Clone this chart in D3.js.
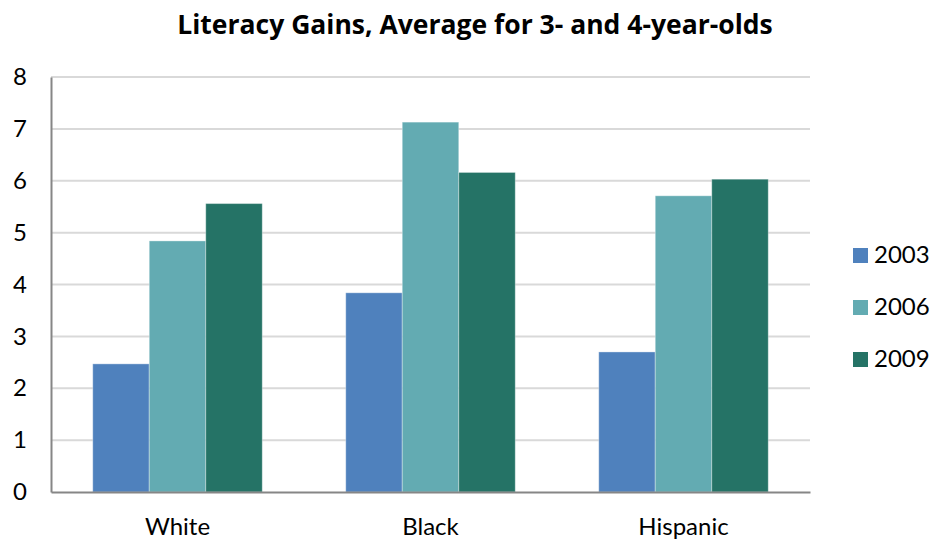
<!DOCTYPE html>
<html>
<head>
<meta charset="utf-8">
<script src="https://cdn.jsdelivr.net/npm/d3@7"></script>
<style>
  body { margin: 0; background: #fff; }
  text { font-family: Lato, "Open Sans", sans-serif; fill: #000; }
</style>
</head>
<body>
<div class="literacyChart"></div>
<script>
const groups = ['White', 'Black', 'Hispanic']
const years = ['2003', '2006', '2009']
const values2003 = [2.47, 3.84, 2.70]
const values2006 = [4.84, 7.13, 5.71]
const values2009 = [5.56, 6.16, 6.03]
const yTicks = [0, 1, 2, 3, 4, 5, 6, 7, 8]

const series = { '2003': values2003, '2006': values2006, '2009': values2009 }
const color = { '2003': '#4f81bd', '2006': '#63abb2', '2009': '#257366' }

const width = 930, height = 540
const margin = { top: 77, right: 120, bottom: 48, left: 51 }

const svg = d3.select('.literacyChart')
    .append('svg')
    .attr('width', width)
    .attr('height', height)

const x = d3.scaleBand()
    .domain(groups)
    .range([margin.left, width - margin.right])
    .paddingInner(0.33)
    .paddingOuter(0.165)

const xInner = d3.scaleBand()
    .domain(years)
    .range([0, x.bandwidth()])

const y = d3.scaleLinear()
    .domain([0, 8])
    .range([height - margin.bottom, margin.top])

// gridlines
svg.append('g')
    .selectAll('line')
    .data(yTicks.slice(1))
    .join('line')
    .attr('x1', margin.left)
    .attr('x2', width - margin.right)
    .attr('y1', d => y(d))
    .attr('y2', d => y(d))
    .attr('stroke', '#d9d9d9')
    .attr('stroke-width', 2)

// bars
svg.append('g')
    .selectAll('g')
    .data(groups)
    .join('g')
    .attr('transform', d => `translate(${x(d)},0)`)
    .selectAll('rect')
    .data((g, i) => years.map(k => ({ key: k, value: series[k][i] })))
    .join('rect')
    .attr('x', d => xInner(d.key))
    .attr('width', xInner.bandwidth())
    .attr('y', d => y(d.value))
    .attr('height', d => y(0) - y(d.value))
    .attr('fill', d => color[d.key])
    .attr('stroke', 'rgba(255,255,255,0.35)')
    .attr('stroke-width', 1)

// y axis
const yAxis = svg.append('g')
    .attr('transform', `translate(${margin.left},0)`)
    .call(d3.axisLeft(y).tickValues(yTicks).tickSize(0).tickPadding(24))
yAxis.select('.domain').attr('stroke', '#868686').attr('stroke-width', 2)
yAxis.selectAll('text').attr('font-size', 24).attr('fill', '#000')

// x axis
const xAxis = svg.append('g')
    .attr('transform', `translate(0,${height - margin.bottom})`)
    .call(d3.axisBottom(x).tickSize(0).tickPadding(26))
xAxis.select('.domain').attr('stroke', '#868686').attr('stroke-width', 2)
xAxis.selectAll('text').attr('font-size', 24).attr('fill', '#000')

// title
svg.append('text')
    .attr('x', 475)
    .attr('y', 34)
    .attr('text-anchor', 'middle')
    .style('font-family', '"Open Sans", sans-serif')
    .style('font-size', '26.5px')
    .style('font-weight', 'bold')
    .text('Literacy Gains, Average for 3- and 4-year-olds')

// legend
const legend = svg.append('g')
    .selectAll('g')
    .data(years)
    .join('g')
    .attr('transform', (d, i) => `translate(853,${255 + i * 52})`)
legend.append('rect')
    .attr('x', 0)
    .attr('y', -7)
    .attr('width', 15)
    .attr('height', 15)
    .attr('fill', d => color[d])
legend.append('text')
    .attr('x', 21)
    .attr('dy', '0.35em')
    .attr('font-size', 24)
    .text(d => d)
</script>
</body>
</html>
